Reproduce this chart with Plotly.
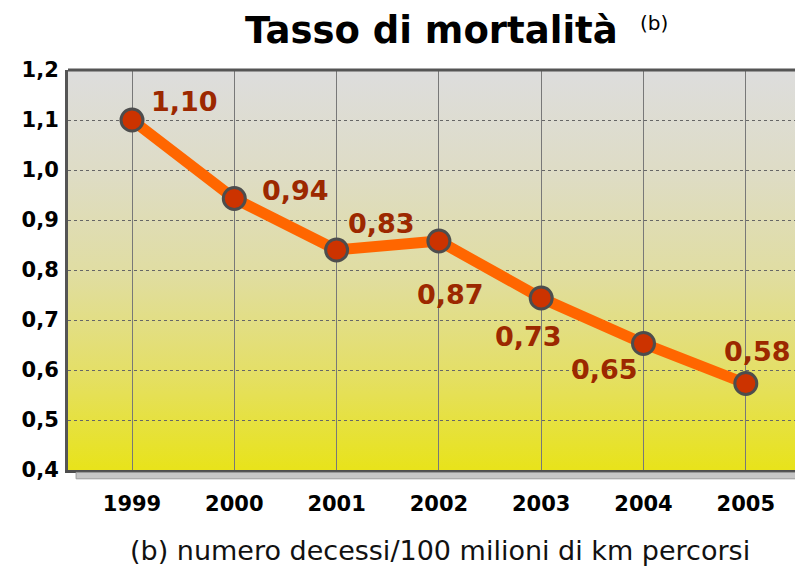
import base64
import plotly.graph_objects as go

# ---- data ----
years = [1999, 2000, 2001, 2002, 2003, 2004, 2005]
rates = [1.10, 0.943, 0.840, 0.858, 0.744, 0.653, 0.573]
rate_labels = ["1,10", "0,94", "0,83", "0,87", "0,73", "0,65", "0,58"]
y_ticks = [0.4, 0.5, 0.6, 0.7, 0.8, 0.9, 1.0, 1.1, 1.2]
y_tick_labels = ["0,4", "0,5", "0,6", "0,7", "0,8", "0,9", "1,0", "1,1", "1,2"]
x_tick_labels = ["1999", "2000", "2001", "2002", "2003", "2004", "2005"]

title_text = "Tasso di mortalità"
title_note = "(b)"
footnote = "(b) numero decessi/100 milioni di km percorsi"

# label offsets in pixels (style)
label_shift = [(52, 19), (61, 8), (45, 27), (12, -53), (-13, -38), (-39, -26), (12, 32)]

# ---- background gradient ----
svg = (
    '<svg xmlns="http://www.w3.org/2000/svg" width="100" height="100" '
    'viewBox="0 0 100 100" preserveAspectRatio="none">'
    '<defs><linearGradient id="g" x1="0" y1="0" x2="0" y2="1">'
    '<stop offset="0" stop-color="#dddddd"/>'
    '<stop offset="0.25" stop-color="#dedcc6"/>'
    '<stop offset="0.5" stop-color="#e0dda3"/>'
    '<stop offset="0.75" stop-color="#e4df68"/>'
    '<stop offset="1" stop-color="#e8e31a"/>'
    '</linearGradient></defs>'
    '<rect x="0" y="0" width="100" height="100" fill="url(#g)"/></svg>'
)
bg_uri = "data:image/svg+xml;base64," + base64.b64encode(svg.encode()).decode()

FONT = "DejaVu Sans"

fig = go.Figure()
fig.add_trace(go.Scatter(
    x=years, y=rates, mode="lines+markers",
    line=dict(color="#ff6600", width=11),
    marker=dict(size=22, color="#cc3300", line=dict(color="#4d4d4d", width=3)),
    hoverinfo="skip", showlegend=False,
))

annotations = []
for yr, v, t, (dx, dy) in zip(years, rates, rate_labels, label_shift):
    annotations.append(dict(
        x=yr, y=v, text="<b>%s</b>" % t, showarrow=False,
        xshift=dx, yshift=dy, xanchor="center", yanchor="middle",
        font=dict(family=FONT, size=27, color="#9c2800"),
    ))

annotations.append(dict(
    xref="paper", yref="paper", x=0.4946, y=1.098, text="<b>%s</b>" % title_text,
    showarrow=False, xanchor="center", yanchor="middle", borderpad=0,
    font=dict(family=FONT, size=37, color="#000000"),
))
annotations.append(dict(
    xref="paper", yref="paper", x=0.776, y=1.118, text=title_note,
    showarrow=False, xanchor="left", yanchor="middle",
    font=dict(family=FONT, size=20, color="#000000"),
))
annotations.append(dict(
    xref="paper", yref="paper", x=0.506, y=-0.2, text=footnote,
    showarrow=False, xanchor="center", yanchor="middle",
    font=dict(family=FONT, size=27, color="#111111"),
))

x0 = 1999 - 64 / 102.3
x1 = x0 + 735 / 102.3

fig.update_layout(
    width=795, height=562,
    margin=dict(l=60, r=0, t=62, b=100),
    paper_bgcolor="white",
    plot_bgcolor="rgba(0,0,0,0)",
    annotations=annotations,
    images=[dict(
        source=bg_uri, xref="x domain", yref="y domain", x=0, y=1,
        sizex=1, sizey=1, sizing="stretch", xanchor="left", yanchor="top",
        layer="below",
    )],
    shapes=[
        dict(type="line", xref="x domain", yref="y domain", x0=0, x1=1, y0=1, y1=1,
             line=dict(color="#555555", width=3)),
        dict(type="rect", xref="x domain", yref="y domain", x0=0.011, x1=1.0,
             y0=-0.006, y1=-0.022, fillcolor="#c6c6c6",
             line=dict(color="#9a9a9a", width=1)),
    ],
    xaxis=dict(
        range=[x0, x1], tickmode="array", tickvals=years, ticktext=x_tick_labels,
        showgrid=True, gridcolor="#787878", gridwidth=1, zeroline=False,
        showline=True, linecolor="#4d4d4d", linewidth=3, ticks="",
        ticklabelstandoff=13,
        tickfont=dict(family=FONT, size=21, color="#000000", weight="bold"),
    ),
    yaxis=dict(
        range=[0.4, 1.2], tickmode="array", tickvals=y_ticks, ticktext=y_tick_labels,
        showgrid=True, gridcolor="#666666", gridwidth=1, griddash="dot", zeroline=False,
        showline=True, linecolor="#555555", linewidth=3, ticks="",
        ticklabelstandoff=2,
        tickfont=dict(family=FONT, size=21, color="#000000", weight="bold"),
    ),
)

fig.write_html("out.html")
